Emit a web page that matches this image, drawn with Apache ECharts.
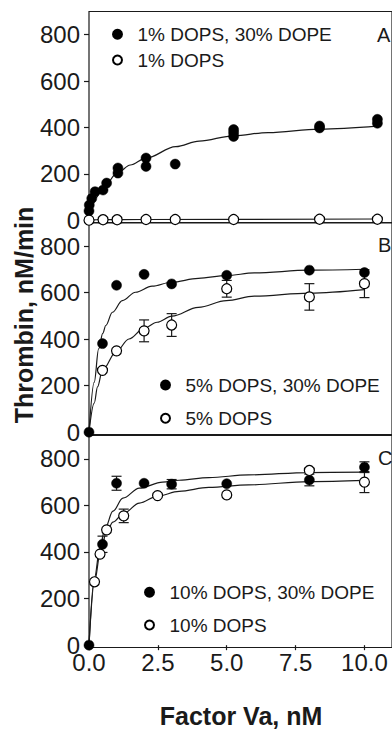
<!DOCTYPE html>
<html><head><meta charset="utf-8">
<script src="https://cdn.jsdelivr.net/npm/echarts@6/dist/echarts.min.js"></script>
<style>html,body{margin:0;padding:0;background:#fff;}#c{width:392px;height:729px;}</style>
</head><body><div id="c"></div>
<script>
// ---- data ----
const xTicks = [0, 2.5, 5, 7.5, 10];
const yTicks = [0, 200, 400, 600, 800];

// Panel A
const aFilled = [[0,40],[0.01,65],[0.1,94],[0.22,123],[0.51,130],[0.64,160],[1.05,225],[1.05,203],[2.07,268],[2.07,232],[3.13,242],[5.25,391],[5.25,377],[5.25,361],[8.37,406],[8.37,398],[10.47,435],[10.47,418]];
const aOpen = [[0,0],[0.51,2],[1.02,2],[2.07,3],[3.13,3],[5.25,3],[8.37,4],[10.47,4]];
const aFilledFit = [[0,0],[0.05,32],[0.25,97],[0.5,138],[1.05,206],[1.5,238],[2.07,268],[3.15,317],[4,341],[5.25,364],[6.5,378],[8.37,393],[10.47,406]];
const aOpenFit = [[0,0],[0.3,2],[2,3],[10.47,5]];

// Panel B
const bFilled = [[0,0],[0.49,381],[1.0,632],[2.0,679],[3.0,638],[5.0,675],[8.0,697],[10.0,687]];
const bOpen = [[0.49,266],[1.0,350],[2.0,436],[3.0,461],[5.0,617],[8.0,582],[10.0,639]];
const bOpenErr = [0,0,47,49,36,57,60];
const bFilledFit = [[0,0],[0.19,215],[0.35,358],[0.5,425],[0.61,459],[0.85,516],[1.21,566],[1.69,602],[2.29,628],[2.99,645],[3.97,662],[4.99,674],[6.0,685],[8,697],[10,701]];
const bOpenFit = [[0,0],[0.19,125],[0.31,195],[0.49,268],[0.99,347],[1.45,401],[2.0,447],[2.47,473],[3.01,499],[3.97,537],[4.99,566],[6.0,585],[8,598],[10,613]];

// Panel C
const cFilled = [[0,0],[0.49,433],[1.0,695],[2.0,695],[3.0,691],[5.0,693],[8.0,709],[10.0,764]];
const cFilledErr = [0,35,30,0,20,0,25,23];
const cOpen = [[0.2,272],[0.4,391],[0.64,495],[1.26,555],[2.49,642],[5.0,645],[8.0,750],[10.0,700]];
const cOpenErr = [0,0,0,29,0,0,0,45];
const cUpperFit = [[0,0],[0.2,290],[0.4,422],[0.58,500],[0.87,575],[1.23,631],[1.83,674],[2.67,700],[3.27,708],[4.35,719],[5.79,731],[8,741],[10,743]];
const cLowerFit = [[0,0],[0.2,272],[0.4,390],[0.64,487],[0.87,528],[1.26,566],[1.83,610],[2.49,640],[3.27,660],[4.35,677],[5.79,688],[8,702],[10,707]];

const legendA = ['1% DOPS, 30% DOPE', '1% DOPS'];
const legendB = ['5% DOPS, 30% DOPE', '5% DOPS'];
const legendC = ['10% DOPS, 30% DOPE', '10% DOPS'];
const panelLetters = ['A', 'B', 'C'];
const yTitle = 'Thrombin, nM/min';
const xTitle = 'Factor Va, nM';

// ---- chart ----
const FONT = 'Liberation Sans, Arial, Helvetica, sans-serif';
const INK = '#1a1a1a';
const chart = echarts.init(document.getElementById('c'), null, {renderer: 'svg'});

const grids = [
  {left: 89, top: 11.5, width: 306, height: 211},
  {left: 89, top: 223, width: 306, height: 211.5},
  {left: 89, top: 435.5, width: 306, height: 212}
].map(g => Object.assign(g, {show: true, borderColor: INK, borderWidth: 1.2, backgroundColor: 'transparent'}));

function xAxis(i, showLabels) {
  return {
    type: 'value', gridIndex: i, min: 0, max: 11,
    axisLine: {show: false}, splitLine: {show: false},
    axisTick: {show: showLabels, customValues: xTicks, length: 5, lineStyle: {color: INK, width: 1.2}},
    axisLabel: {show: showLabels, customValues: xTicks, margin: 7, fontSize: 24, lineHeight: 15, fontFamily: FONT, color: INK,
      formatter: v => Number(v).toFixed(1)}
  };
}
function yAxis(i) {
  return {
    type: 'value', gridIndex: i, min: -10, max: 900,
    axisLine: {show: false}, splitLine: {show: false},
    axisTick: {show: true, customValues: yTicks, length: 5, lineStyle: {color: INK, width: 1.2}},
    axisLabel: {customValues: yTicks, margin: 9, fontSize: 24, lineHeight: 15, fontFamily: FONT, color: INK}
  };
}

function errRender(params, api) {
  const x = api.value(0), y = api.value(1), e = api.value(2);
  if (!e) return null;
  const p0 = api.coord([x, y - e]), p1 = api.coord([x, y + e]);
  const w = 5;
  const st = {stroke: INK, lineWidth: 1.2};
  return {type: 'group', children: [
    {type: 'line', shape: {x1: p0[0], y1: p0[1], x2: p1[0], y2: p1[1]}, style: st},
    {type: 'line', shape: {x1: p0[0] - w, y1: p0[1], x2: p0[0] + w, y2: p0[1]}, style: st},
    {type: 'line', shape: {x1: p1[0] - w, y1: p1[1], x2: p1[0] + w, y2: p1[1]}, style: st}
  ]};
}
function errSeries(i, pts, errs) {
  return {type: 'custom', xAxisIndex: i, yAxisIndex: i, renderItem: errRender, z: 2,
    encode: {x: 0, y: 1}, data: pts.map((p, k) => [p[0], p[1], errs[k]]), silent: true};
}
function fit(i, pts) {
  return {type: 'line', xAxisIndex: i, yAxisIndex: i, data: pts, showSymbol: false, symbol: 'none',
    smooth: 0.35, smoothMonotone: 'x', lineStyle: {color: INK, width: 1.2}, z: 1, silent: true};
}
function filled(i, name, pts) {
  return {type: 'scatter', name: name, xAxisIndex: i, yAxisIndex: i, data: pts, symbol: 'circle', symbolSize: 10,
    itemStyle: {color: '#000', borderColor: '#000', borderWidth: 0.5, opacity: 1}, z: 3};
}
function open(i, name, pts) {
  return {type: 'scatter', name: name, xAxisIndex: i, yAxisIndex: i, data: pts, symbol: 'circle', symbolSize: 10,
    itemStyle: {color: '#fff', borderColor: '#000', borderWidth: 1.2, opacity: 1}, z: 4};
}
function legend(names, left, top, gap) {
  return {data: names, left: left, top: top, orient: 'vertical', itemGap: gap, itemWidth: 30, itemHeight: 9,
    selectedMode: false, padding: 0,
    textStyle: {fontSize: 19, fontFamily: FONT, color: INK, lineHeight: 20}};
}

const option = {
  backgroundColor: '#fff',
  animation: false,
  grid: grids,
  xAxis: [xAxis(0, false), xAxis(1, false), xAxis(2, true)],
  yAxis: [yAxis(0), yAxis(1), yAxis(2)],
  legend: [
    legend(legendA, 112, 24.3, 5.7),
    legend(legendB, 160, 375, 13.3),
    legend(legendC, 144, 582.3, 12.7)
  ],
  graphic: [
    {type: 'text', x: 24, y: 315, rotation: Math.PI / 2,
      style: {text: yTitle, font: 'bold 25px ' + FONT, lineHeight: 20, fill: INK, textAlign: 'center', textVerticalAlign: 'middle'}},
    {type: 'text', x: 241, y: 716,
      style: {text: xTitle, font: 'bold 25px ' + FONT, lineHeight: 20, fill: INK, textAlign: 'center', textVerticalAlign: 'middle'}},
    {type: 'text', x: 377, y: 34.5, style: {text: panelLetters[0], font: '20px ' + FONT, fill: INK, textAlign: 'left', textVerticalAlign: 'middle'}},
    {type: 'text', x: 378, y: 245, style: {text: panelLetters[1], font: '20px ' + FONT, fill: INK, textAlign: 'left', textVerticalAlign: 'middle'}},
    {type: 'text', x: 378, y: 457.5, style: {text: panelLetters[2], font: '20px ' + FONT, fill: INK, textAlign: 'left', textVerticalAlign: 'middle'}}
  ],
  series: [
    fit(0, aFilledFit), fit(0, aOpenFit),
    filled(0, legendA[0], aFilled), open(0, legendA[1], aOpen),

    fit(1, bFilledFit), fit(1, bOpenFit),
    errSeries(1, bOpen, bOpenErr),
    filled(1, legendB[0], bFilled), open(1, legendB[1], bOpen),

    fit(2, cUpperFit), fit(2, cLowerFit),
    errSeries(2, cFilled, cFilledErr), errSeries(2, cOpen, cOpenErr),
    filled(2, legendC[0], cFilled), open(2, legendC[1], cOpen)
  ]
};
chart.setOption(option);
</script></body></html>
